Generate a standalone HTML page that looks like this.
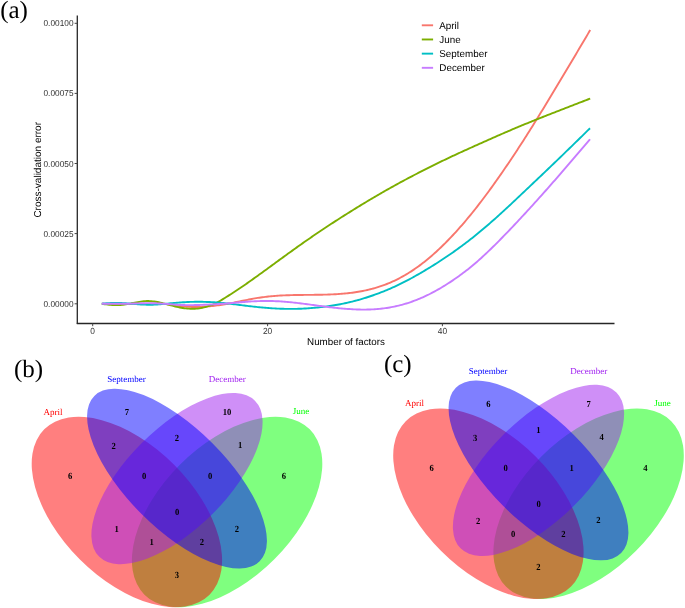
<!DOCTYPE html>
<html><head><meta charset="utf-8"><style>
html,body{margin:0;padding:0;background:#fff;}
body{width:685px;height:608px;overflow:hidden;}
svg{display:block;will-change:transform;text-rendering:geometricPrecision;}
.ax{stroke:#262626;stroke-width:1.3;}
.tk{stroke:#444;stroke-width:1;}
.yt{font-family:"Liberation Sans",sans-serif;font-size:8.3px;fill:#333;text-anchor:end;}
.xt{font-family:"Liberation Sans",sans-serif;font-size:8.4px;fill:#333;text-anchor:middle;}
.lg{font-family:"Liberation Sans",sans-serif;font-size:9.85px;fill:#000;}
.at{font-family:"Liberation Sans",sans-serif;font-size:9.8px;fill:#000;text-anchor:middle;}
.at2{font-family:"Liberation Sans",sans-serif;font-size:10px;fill:#000;text-anchor:middle;}
.pl{font-family:"Liberation Serif",serif;font-size:25px;fill:#000;}
.vl{font-family:"Liberation Serif",serif;font-size:9px;text-anchor:middle;}
.vn{font-family:"Liberation Serif",serif;font-size:8.6px;font-weight:bold;fill:#000;text-anchor:middle;}
</style></head><body>
<svg width="685" height="608" viewBox="0 0 685 608">
<text x="0.2" y="18.0" class="pl">(a)</text>
<line x1="77.3" y1="15.5" x2="77.3" y2="324.0" class="ax"/>
<line x1="76.8" y1="323.5" x2="614.5" y2="323.5" class="ax"/>
<line x1="74.6" y1="23.3" x2="77.3" y2="23.3" class="tk"/>
<text transform="translate(73.5 26.30) scale(1 1.050)" class="yt">0.00100</text>
<line x1="74.6" y1="93.4" x2="77.3" y2="93.4" class="tk"/>
<text transform="translate(73.5 96.40) scale(1 1.050)" class="yt">0.00075</text>
<line x1="74.6" y1="163.5" x2="77.3" y2="163.5" class="tk"/>
<text transform="translate(73.5 166.50) scale(1 1.050)" class="yt">0.00050</text>
<line x1="74.6" y1="233.6" x2="77.3" y2="233.6" class="tk"/>
<text transform="translate(73.5 236.60) scale(1 1.050)" class="yt">0.00025</text>
<line x1="74.6" y1="303.8" x2="77.3" y2="303.8" class="tk"/>
<text transform="translate(73.5 306.80) scale(1 1.050)" class="yt">0.00000</text>
<line x1="92.7" y1="323.5" x2="92.7" y2="326.2" class="tk"/>
<text transform="translate(92.7 333.70) scale(1 1.050)" class="xt">0</text>
<line x1="267.6" y1="323.5" x2="267.6" y2="326.2" class="tk"/>
<text transform="translate(267.6 333.70) scale(1 1.050)" class="xt">20</text>
<line x1="442.4" y1="323.5" x2="442.4" y2="326.2" class="tk"/>
<text transform="translate(442.4 333.70) scale(1 1.050)" class="xt">40</text>
<path d="M101.80,303.74 L103.30,303.79 L104.80,303.85 L106.30,303.90 L107.80,303.95 L109.30,303.99 L110.80,304.03 L112.30,304.06 L113.80,304.08 L115.30,304.09 L116.80,304.09 L118.30,304.07 L119.80,304.05 L121.30,304.02 L122.80,303.99 L124.30,303.95 L125.80,303.91 L127.30,303.88 L128.80,303.85 L130.30,303.83 L131.80,303.82 L133.30,303.81 L134.80,303.82 L136.30,303.82 L137.80,303.83 L139.30,303.84 L140.80,303.85 L142.30,303.86 L143.80,303.86 L145.30,303.86 L146.80,303.85 L148.30,303.83 L149.80,303.80 L151.30,303.78 L152.80,303.75 L154.30,303.74 L155.80,303.72 L157.30,303.72 L158.80,303.74 L160.30,303.77 L161.80,303.82 L163.30,303.90 L164.80,304.00 L166.30,304.13 L167.80,304.29 L169.30,304.47 L170.80,304.67 L172.30,304.88 L173.80,305.09 L175.30,305.32 L176.80,305.53 L178.30,305.75 L179.80,305.95 L181.30,306.14 L182.80,306.31 L184.30,306.46 L185.80,306.60 L187.30,306.71 L188.80,306.81 L190.30,306.89 L191.80,306.94 L193.30,306.98 L194.80,306.99 L196.30,306.99 L197.80,306.96 L199.30,306.92 L200.80,306.86 L202.30,306.79 L203.80,306.71 L205.30,306.62 L206.80,306.51 L208.30,306.39 L209.80,306.26 L211.30,306.12 L212.80,305.97 L214.30,305.80 L215.80,305.62 L217.30,305.43 L218.80,305.23 L220.30,305.01 L221.80,304.79 L223.30,304.55 L224.80,304.30 L226.30,304.03 L227.80,303.76 L229.30,303.48 L230.80,303.19 L232.30,302.89 L233.80,302.58 L235.30,302.28 L236.80,301.97 L238.30,301.65 L239.80,301.34 L241.30,301.03 L242.80,300.72 L244.30,300.41 L245.80,300.11 L247.30,299.81 L248.80,299.52 L250.30,299.23 L251.80,298.95 L253.30,298.68 L254.80,298.42 L256.30,298.17 L257.80,297.93 L259.30,297.70 L260.80,297.48 L262.30,297.27 L263.80,297.07 L265.30,296.88 L266.80,296.70 L268.30,296.54 L269.80,296.38 L271.30,296.23 L272.80,296.10 L274.30,295.97 L275.80,295.86 L277.30,295.75 L278.80,295.65 L280.30,295.56 L281.80,295.48 L283.30,295.41 L284.80,295.34 L286.30,295.28 L287.80,295.23 L289.30,295.18 L290.80,295.14 L292.30,295.10 L293.80,295.06 L295.30,295.03 L296.80,295.01 L298.30,294.99 L299.80,294.97 L301.30,294.95 L302.80,294.93 L304.30,294.92 L305.80,294.90 L307.30,294.89 L308.80,294.87 L310.30,294.86 L311.80,294.85 L313.30,294.83 L314.80,294.81 L316.30,294.80 L317.80,294.77 L319.30,294.75 L320.80,294.72 L322.30,294.69 L323.80,294.66 L325.30,294.62 L326.80,294.58 L328.30,294.53 L329.80,294.47 L331.30,294.41 L332.80,294.35 L334.30,294.27 L335.80,294.19 L337.30,294.10 L338.80,294.00 L340.30,293.90 L341.80,293.78 L343.30,293.66 L344.80,293.52 L346.30,293.38 L347.80,293.22 L349.30,293.06 L350.80,292.88 L352.30,292.69 L353.80,292.48 L355.30,292.27 L356.80,292.04 L358.30,291.79 L359.80,291.53 L361.30,291.26 L362.80,290.97 L364.30,290.67 L365.80,290.35 L367.30,290.02 L368.80,289.66 L370.30,289.29 L371.80,288.91 L373.30,288.50 L374.80,288.08 L376.30,287.64 L377.80,287.18 L379.30,286.70 L380.80,286.20 L382.30,285.68 L383.80,285.14 L385.30,284.58 L386.80,284.00 L388.30,283.40 L389.80,282.77 L391.30,282.13 L392.80,281.46 L394.30,280.77 L395.80,280.05 L397.30,279.31 L398.80,278.55 L400.30,277.77 L401.80,276.96 L403.30,276.13 L404.80,275.27 L406.30,274.39 L407.80,273.48 L409.30,272.55 L410.80,271.60 L412.30,270.62 L413.80,269.62 L415.30,268.59 L416.80,267.54 L418.30,266.47 L419.80,265.37 L421.30,264.24 L422.80,263.09 L424.30,261.92 L425.80,260.72 L427.30,259.50 L428.80,258.26 L430.30,256.99 L431.80,255.70 L433.30,254.38 L434.80,253.04 L436.30,251.68 L437.80,250.30 L439.30,248.89 L440.80,247.46 L442.30,246.01 L443.80,244.54 L445.30,243.05 L446.80,241.53 L448.30,240.00 L449.80,238.44 L451.30,236.86 L452.80,235.27 L454.30,233.65 L455.80,232.02 L457.30,230.36 L458.80,228.68 L460.30,226.99 L461.80,225.27 L463.30,223.54 L464.80,221.78 L466.30,220.01 L467.80,218.22 L469.30,216.41 L470.80,214.58 L472.30,212.73 L473.80,210.86 L475.30,208.97 L476.80,207.06 L478.30,205.14 L479.80,203.20 L481.30,201.24 L482.80,199.26 L484.30,197.27 L485.80,195.26 L487.30,193.24 L488.80,191.20 L490.30,189.14 L491.80,187.07 L493.30,184.99 L494.80,182.89 L496.30,180.77 L497.80,178.65 L499.30,176.51 L500.80,174.36 L502.30,172.20 L503.80,170.02 L505.30,167.83 L506.80,165.63 L508.30,163.42 L509.80,161.20 L511.30,158.96 L512.80,156.71 L514.30,154.45 L515.80,152.18 L517.30,149.90 L518.80,147.60 L520.30,145.29 L521.80,142.97 L523.30,140.64 L524.80,138.30 L526.30,135.94 L527.80,133.58 L529.30,131.20 L530.80,128.81 L532.30,126.41 L533.80,124.01 L535.30,121.59 L536.80,119.17 L538.30,116.74 L539.80,114.30 L541.30,111.85 L542.80,109.40 L544.30,106.94 L545.80,104.48 L547.30,102.01 L548.80,99.54 L550.30,97.06 L551.80,94.58 L553.30,92.10 L554.80,89.60 L556.30,87.11 L557.80,84.61 L559.30,82.11 L560.80,79.61 L562.30,77.10 L563.80,74.59 L565.30,72.07 L566.80,69.55 L568.30,67.03 L569.80,64.51 L571.30,61.99 L572.80,59.46 L574.30,56.93 L575.80,54.40 L577.30,51.87 L578.80,49.33 L580.30,46.80 L581.80,44.26 L583.30,41.73 L584.80,39.19 L586.30,36.65 L587.80,34.11 L589.30,31.57 L590.20,30.05" fill="none" stroke="#F8766D" stroke-width="1.90" stroke-linecap="butt" stroke-linejoin="round"/>
<path d="M101.80,303.83 L103.30,304.04 L104.80,304.24 L106.30,304.43 L107.80,304.61 L109.30,304.77 L110.80,304.91 L112.30,305.03 L113.80,305.11 L115.30,305.16 L116.80,305.17 L118.30,305.13 L119.80,305.05 L121.30,304.93 L122.80,304.77 L124.30,304.58 L125.80,304.36 L127.30,304.12 L128.80,303.85 L130.30,303.57 L131.80,303.28 L133.30,302.98 L134.80,302.68 L136.30,302.39 L137.80,302.11 L139.30,301.85 L140.80,301.61 L142.30,301.41 L143.80,301.25 L145.30,301.14 L146.80,301.07 L148.30,301.06 L149.80,301.11 L151.30,301.20 L152.80,301.34 L154.30,301.53 L155.80,301.75 L157.30,302.01 L158.80,302.30 L160.30,302.62 L161.80,302.96 L163.30,303.32 L164.80,303.70 L166.30,304.09 L167.80,304.49 L169.30,304.90 L170.80,305.30 L172.30,305.70 L173.80,306.09 L175.30,306.46 L176.80,306.82 L178.30,307.16 L179.80,307.47 L181.30,307.75 L182.80,308.00 L184.30,308.22 L185.80,308.40 L187.30,308.55 L188.80,308.66 L190.30,308.73 L191.80,308.77 L193.30,308.76 L194.80,308.71 L196.30,308.62 L197.80,308.48 L199.30,308.29 L200.80,308.05 L202.30,307.76 L203.80,307.43 L205.30,307.06 L206.80,306.66 L208.30,306.21 L209.80,305.72 L211.30,305.18 L212.80,304.58 L214.30,303.92 L215.80,303.20 L217.30,302.43 L218.80,301.61 L220.30,300.75 L221.80,299.85 L223.30,298.93 L224.80,297.99 L226.30,297.05 L227.80,296.10 L229.30,295.14 L230.80,294.18 L232.30,293.21 L233.80,292.23 L235.30,291.24 L236.80,290.25 L238.30,289.25 L239.80,288.25 L241.30,287.24 L242.80,286.22 L244.30,285.19 L245.80,284.16 L247.30,283.12 L248.80,282.07 L250.30,281.02 L251.80,279.96 L253.30,278.90 L254.80,277.83 L256.30,276.76 L257.80,275.68 L259.30,274.60 L260.80,273.52 L262.30,272.43 L263.80,271.34 L265.30,270.25 L266.80,269.16 L268.30,268.06 L269.80,266.97 L271.30,265.87 L272.80,264.77 L274.30,263.68 L275.80,262.58 L277.30,261.49 L278.80,260.39 L280.30,259.30 L281.80,258.21 L283.30,257.11 L284.80,256.02 L286.30,254.94 L287.80,253.85 L289.30,252.77 L290.80,251.69 L292.30,250.61 L293.80,249.53 L295.30,248.46 L296.80,247.39 L298.30,246.32 L299.80,245.25 L301.30,244.19 L302.80,243.14 L304.30,242.08 L305.80,241.03 L307.30,239.99 L308.80,238.95 L310.30,237.91 L311.80,236.87 L313.30,235.84 L314.80,234.82 L316.30,233.80 L317.80,232.78 L319.30,231.76 L320.80,230.76 L322.30,229.75 L323.80,228.75 L325.30,227.75 L326.80,226.76 L328.30,225.77 L329.80,224.79 L331.30,223.81 L332.80,222.84 L334.30,221.87 L335.80,220.90 L337.30,219.93 L338.80,218.97 L340.30,218.02 L341.80,217.06 L343.30,216.11 L344.80,215.17 L346.30,214.22 L347.80,213.28 L349.30,212.34 L350.80,211.40 L352.30,210.47 L353.80,209.54 L355.30,208.61 L356.80,207.68 L358.30,206.76 L359.80,205.84 L361.30,204.93 L362.80,204.01 L364.30,203.10 L365.80,202.20 L367.30,201.29 L368.80,200.40 L370.30,199.50 L371.80,198.61 L373.30,197.72 L374.80,196.84 L376.30,195.96 L377.80,195.09 L379.30,194.22 L380.80,193.35 L382.30,192.49 L383.80,191.63 L385.30,190.78 L386.80,189.93 L388.30,189.08 L389.80,188.24 L391.30,187.40 L392.80,186.57 L394.30,185.74 L395.80,184.91 L397.30,184.09 L398.80,183.27 L400.30,182.45 L401.80,181.64 L403.30,180.83 L404.80,180.03 L406.30,179.23 L407.80,178.43 L409.30,177.64 L410.80,176.85 L412.30,176.06 L413.80,175.28 L415.30,174.50 L416.80,173.72 L418.30,172.94 L419.80,172.17 L421.30,171.41 L422.80,170.64 L424.30,169.88 L425.80,169.12 L427.30,168.36 L428.80,167.61 L430.30,166.86 L431.80,166.11 L433.30,165.37 L434.80,164.63 L436.30,163.89 L437.80,163.15 L439.30,162.42 L440.80,161.69 L442.30,160.97 L443.80,160.24 L445.30,159.52 L446.80,158.81 L448.30,158.10 L449.80,157.39 L451.30,156.68 L452.80,155.98 L454.30,155.28 L455.80,154.58 L457.30,153.89 L458.80,153.20 L460.30,152.51 L461.80,151.83 L463.30,151.14 L464.80,150.46 L466.30,149.78 L467.80,149.10 L469.30,148.42 L470.80,147.75 L472.30,147.07 L473.80,146.39 L475.30,145.72 L476.80,145.05 L478.30,144.37 L479.80,143.70 L481.30,143.03 L482.80,142.36 L484.30,141.69 L485.80,141.02 L487.30,140.35 L488.80,139.68 L490.30,139.02 L491.80,138.35 L493.30,137.69 L494.80,137.03 L496.30,136.37 L497.80,135.71 L499.30,135.05 L500.80,134.40 L502.30,133.75 L503.80,133.10 L505.30,132.45 L506.80,131.80 L508.30,131.16 L509.80,130.52 L511.30,129.88 L512.80,129.24 L514.30,128.61 L515.80,127.98 L517.30,127.35 L518.80,126.72 L520.30,126.09 L521.80,125.47 L523.30,124.85 L524.80,124.24 L526.30,123.62 L527.80,123.01 L529.30,122.40 L530.80,121.79 L532.30,121.19 L533.80,120.59 L535.30,119.98 L536.80,119.39 L538.30,118.79 L539.80,118.19 L541.30,117.60 L542.80,117.00 L544.30,116.41 L545.80,115.82 L547.30,115.23 L548.80,114.64 L550.30,114.05 L551.80,113.47 L553.30,112.88 L554.80,112.29 L556.30,111.71 L557.80,111.12 L559.30,110.54 L560.80,109.95 L562.30,109.37 L563.80,108.78 L565.30,108.20 L566.80,107.62 L568.30,107.04 L569.80,106.46 L571.30,105.88 L572.80,105.30 L574.30,104.71 L575.80,104.13 L577.30,103.56 L578.80,102.98 L580.30,102.40 L581.80,101.82 L583.30,101.24 L584.80,100.66 L586.30,100.08 L587.80,99.50 L589.30,98.92 L590.20,98.58" fill="none" stroke="#7CAE00" stroke-width="1.90" stroke-linecap="butt" stroke-linejoin="round"/>
<path d="M101.80,303.63 L103.30,303.51 L104.80,303.40 L106.30,303.29 L107.80,303.18 L109.30,303.09 L110.80,303.01 L112.30,302.95 L113.80,302.90 L115.30,302.87 L116.80,302.86 L118.30,302.88 L119.80,302.92 L121.30,302.99 L122.80,303.08 L124.30,303.18 L125.80,303.29 L127.30,303.41 L128.80,303.54 L130.30,303.67 L131.80,303.79 L133.30,303.92 L134.80,304.04 L136.30,304.15 L137.80,304.26 L139.30,304.36 L140.80,304.45 L142.30,304.53 L143.80,304.60 L145.30,304.66 L146.80,304.70 L148.30,304.72 L149.80,304.72 L151.30,304.71 L152.80,304.68 L154.30,304.64 L155.80,304.57 L157.30,304.49 L158.80,304.39 L160.30,304.27 L161.80,304.15 L163.30,304.02 L164.80,303.88 L166.30,303.74 L167.80,303.60 L169.30,303.46 L170.80,303.32 L172.30,303.18 L173.80,303.04 L175.30,302.90 L176.80,302.77 L178.30,302.65 L179.80,302.53 L181.30,302.41 L182.80,302.31 L184.30,302.21 L185.80,302.12 L187.30,302.04 L188.80,301.97 L190.30,301.92 L191.80,301.87 L193.30,301.83 L194.80,301.81 L196.30,301.79 L197.80,301.78 L199.30,301.79 L200.80,301.80 L202.30,301.82 L203.80,301.85 L205.30,301.89 L206.80,301.94 L208.30,302.00 L209.80,302.06 L211.30,302.14 L212.80,302.22 L214.30,302.32 L215.80,302.42 L217.30,302.53 L218.80,302.64 L220.30,302.77 L221.80,302.90 L223.30,303.05 L224.80,303.19 L226.30,303.35 L227.80,303.51 L229.30,303.68 L230.80,303.85 L232.30,304.03 L233.80,304.21 L235.30,304.39 L236.80,304.58 L238.30,304.76 L239.80,304.95 L241.30,305.14 L242.80,305.33 L244.30,305.52 L245.80,305.70 L247.30,305.89 L248.80,306.07 L250.30,306.25 L251.80,306.42 L253.30,306.59 L254.80,306.76 L256.30,306.92 L257.80,307.08 L259.30,307.23 L260.80,307.37 L262.30,307.51 L263.80,307.65 L265.30,307.78 L266.80,307.90 L268.30,308.02 L269.80,308.13 L271.30,308.24 L272.80,308.33 L274.30,308.42 L275.80,308.51 L277.30,308.58 L278.80,308.65 L280.30,308.71 L281.80,308.77 L283.30,308.81 L284.80,308.85 L286.30,308.88 L287.80,308.90 L289.30,308.91 L290.80,308.91 L292.30,308.91 L293.80,308.89 L295.30,308.87 L296.80,308.84 L298.30,308.80 L299.80,308.75 L301.30,308.69 L302.80,308.62 L304.30,308.55 L305.80,308.47 L307.30,308.37 L308.80,308.27 L310.30,308.17 L311.80,308.05 L313.30,307.92 L314.80,307.79 L316.30,307.65 L317.80,307.50 L319.30,307.34 L320.80,307.17 L322.30,306.99 L323.80,306.81 L325.30,306.62 L326.80,306.42 L328.30,306.21 L329.80,305.99 L331.30,305.76 L332.80,305.53 L334.30,305.28 L335.80,305.03 L337.30,304.76 L338.80,304.49 L340.30,304.21 L341.80,303.91 L343.30,303.61 L344.80,303.29 L346.30,302.97 L347.80,302.63 L349.30,302.28 L350.80,301.93 L352.30,301.56 L353.80,301.18 L355.30,300.79 L356.80,300.38 L358.30,299.97 L359.80,299.55 L361.30,299.11 L362.80,298.67 L364.30,298.21 L365.80,297.74 L367.30,297.26 L368.80,296.77 L370.30,296.27 L371.80,295.76 L373.30,295.24 L374.80,294.71 L376.30,294.17 L377.80,293.62 L379.30,293.05 L380.80,292.48 L382.30,291.89 L383.80,291.29 L385.30,290.69 L386.80,290.07 L388.30,289.44 L389.80,288.79 L391.30,288.14 L392.80,287.47 L394.30,286.79 L395.80,286.10 L397.30,285.40 L398.80,284.68 L400.30,283.96 L401.80,283.22 L403.30,282.46 L404.80,281.70 L406.30,280.92 L407.80,280.14 L409.30,279.34 L410.80,278.53 L412.30,277.71 L413.80,276.88 L415.30,276.04 L416.80,275.19 L418.30,274.34 L419.80,273.47 L421.30,272.60 L422.80,271.72 L424.30,270.83 L425.80,269.93 L427.30,269.03 L428.80,268.12 L430.30,267.20 L431.80,266.27 L433.30,265.34 L434.80,264.39 L436.30,263.44 L437.80,262.48 L439.30,261.52 L440.80,260.54 L442.30,259.56 L443.80,258.56 L445.30,257.56 L446.80,256.55 L448.30,255.53 L449.80,254.50 L451.30,253.46 L452.80,252.42 L454.30,251.36 L455.80,250.29 L457.30,249.21 L458.80,248.13 L460.30,247.03 L461.80,245.92 L463.30,244.81 L464.80,243.68 L466.30,242.54 L467.80,241.39 L469.30,240.23 L470.80,239.06 L472.30,237.88 L473.80,236.69 L475.30,235.49 L476.80,234.27 L478.30,233.05 L479.80,231.81 L481.30,230.57 L482.80,229.31 L484.30,228.05 L485.80,226.77 L487.30,225.49 L488.80,224.19 L490.30,222.89 L491.80,221.58 L493.30,220.26 L494.80,218.93 L496.30,217.59 L497.80,216.24 L499.30,214.89 L500.80,213.53 L502.30,212.16 L503.80,210.78 L505.30,209.40 L506.80,208.01 L508.30,206.62 L509.80,205.22 L511.30,203.82 L512.80,202.41 L514.30,201.00 L515.80,199.59 L517.30,198.18 L518.80,196.76 L520.30,195.34 L521.80,193.92 L523.30,192.50 L524.80,191.08 L526.30,189.66 L527.80,188.24 L529.30,186.82 L530.80,185.40 L532.30,183.98 L533.80,182.56 L535.30,181.14 L536.80,179.72 L538.30,178.30 L539.80,176.88 L541.30,175.45 L542.80,174.03 L544.30,172.60 L545.80,171.17 L547.30,169.74 L548.80,168.31 L550.30,166.87 L551.80,165.43 L553.30,163.99 L554.80,162.55 L556.30,161.11 L557.80,159.66 L559.30,158.21 L560.80,156.76 L562.30,155.31 L563.80,153.86 L565.30,152.40 L566.80,150.94 L568.30,149.48 L569.80,148.02 L571.30,146.56 L572.80,145.10 L574.30,143.64 L575.80,142.17 L577.30,140.71 L578.80,139.24 L580.30,137.78 L581.80,136.31 L583.30,134.84 L584.80,133.37 L586.30,131.90 L587.80,130.44 L589.30,128.97 L590.00,128.28" fill="none" stroke="#00BFC4" stroke-width="1.90" stroke-linecap="butt" stroke-linejoin="round"/>
<path d="M101.80,303.71 L103.30,303.72 L104.80,303.74 L106.30,303.75 L107.80,303.77 L109.30,303.78 L110.80,303.79 L112.30,303.80 L113.80,303.80 L115.30,303.81 L116.80,303.81 L118.30,303.81 L119.80,303.80 L121.30,303.79 L122.80,303.78 L124.30,303.76 L125.80,303.74 L127.30,303.71 L128.80,303.68 L130.30,303.64 L131.80,303.60 L133.30,303.55 L134.80,303.50 L136.30,303.45 L137.80,303.39 L139.30,303.34 L140.80,303.30 L142.30,303.25 L143.80,303.22 L145.30,303.19 L146.80,303.17 L148.30,303.16 L149.80,303.16 L151.30,303.18 L152.80,303.21 L154.30,303.25 L155.80,303.30 L157.30,303.36 L158.80,303.43 L160.30,303.52 L161.80,303.61 L163.30,303.71 L164.80,303.81 L166.30,303.92 L167.80,304.04 L169.30,304.16 L170.80,304.28 L172.30,304.40 L173.80,304.52 L175.30,304.63 L176.80,304.73 L178.30,304.83 L179.80,304.91 L181.30,304.98 L182.80,305.03 L184.30,305.07 L185.80,305.10 L187.30,305.12 L188.80,305.13 L190.30,305.13 L191.80,305.12 L193.30,305.10 L194.80,305.07 L196.30,305.04 L197.80,304.99 L199.30,304.95 L200.80,304.89 L202.30,304.84 L203.80,304.78 L205.30,304.71 L206.80,304.65 L208.30,304.58 L209.80,304.51 L211.30,304.43 L212.80,304.35 L214.30,304.27 L215.80,304.19 L217.30,304.10 L218.80,304.01 L220.30,303.91 L221.80,303.81 L223.30,303.70 L224.80,303.59 L226.30,303.47 L227.80,303.35 L229.30,303.22 L230.80,303.10 L232.30,302.96 L233.80,302.83 L235.30,302.70 L236.80,302.57 L238.30,302.44 L239.80,302.31 L241.30,302.18 L242.80,302.06 L244.30,301.94 L245.80,301.82 L247.30,301.71 L248.80,301.61 L250.30,301.51 L251.80,301.42 L253.30,301.34 L254.80,301.27 L256.30,301.20 L257.80,301.14 L259.30,301.10 L260.80,301.06 L262.30,301.03 L263.80,301.00 L265.30,300.99 L266.80,300.99 L268.30,301.00 L269.80,301.01 L271.30,301.04 L272.80,301.07 L274.30,301.12 L275.80,301.18 L277.30,301.24 L278.80,301.32 L280.30,301.41 L281.80,301.51 L283.30,301.61 L284.80,301.72 L286.30,301.85 L287.80,301.98 L289.30,302.11 L290.80,302.26 L292.30,302.41 L293.80,302.57 L295.30,302.74 L296.80,302.91 L298.30,303.08 L299.80,303.26 L301.30,303.45 L302.80,303.64 L304.30,303.83 L305.80,304.03 L307.30,304.23 L308.80,304.43 L310.30,304.63 L311.80,304.83 L313.30,305.04 L314.80,305.24 L316.30,305.45 L317.80,305.65 L319.30,305.86 L320.80,306.06 L322.30,306.26 L323.80,306.45 L325.30,306.65 L326.80,306.84 L328.30,307.02 L329.80,307.20 L331.30,307.38 L332.80,307.55 L334.30,307.72 L335.80,307.88 L337.30,308.04 L338.80,308.19 L340.30,308.34 L341.80,308.48 L343.30,308.61 L344.80,308.74 L346.30,308.86 L347.80,308.97 L349.30,309.07 L350.80,309.17 L352.30,309.26 L353.80,309.33 L355.30,309.40 L356.80,309.46 L358.30,309.51 L359.80,309.55 L361.30,309.58 L362.80,309.60 L364.30,309.60 L365.80,309.59 L367.30,309.57 L368.80,309.53 L370.30,309.48 L371.80,309.42 L373.30,309.34 L374.80,309.24 L376.30,309.13 L377.80,309.01 L379.30,308.87 L380.80,308.72 L382.30,308.55 L383.80,308.36 L385.30,308.16 L386.80,307.94 L388.30,307.70 L389.80,307.45 L391.30,307.18 L392.80,306.89 L394.30,306.59 L395.80,306.27 L397.30,305.93 L398.80,305.57 L400.30,305.20 L401.80,304.80 L403.30,304.39 L404.80,303.96 L406.30,303.51 L407.80,303.04 L409.30,302.55 L410.80,302.05 L412.30,301.52 L413.80,300.98 L415.30,300.42 L416.80,299.84 L418.30,299.23 L419.80,298.61 L421.30,297.98 L422.80,297.32 L424.30,296.64 L425.80,295.94 L427.30,295.23 L428.80,294.49 L430.30,293.74 L431.80,292.97 L433.30,292.17 L434.80,291.37 L436.30,290.54 L437.80,289.70 L439.30,288.83 L440.80,287.96 L442.30,287.06 L443.80,286.15 L445.30,285.22 L446.80,284.28 L448.30,283.32 L449.80,282.35 L451.30,281.36 L452.80,280.35 L454.30,279.33 L455.80,278.29 L457.30,277.24 L458.80,276.17 L460.30,275.08 L461.80,273.98 L463.30,272.86 L464.80,271.72 L466.30,270.56 L467.80,269.38 L469.30,268.19 L470.80,266.97 L472.30,265.74 L473.80,264.49 L475.30,263.21 L476.80,261.92 L478.30,260.60 L479.80,259.27 L481.30,257.92 L482.80,256.55 L484.30,255.16 L485.80,253.76 L487.30,252.34 L488.80,250.91 L490.30,249.47 L491.80,248.01 L493.30,246.54 L494.80,245.06 L496.30,243.56 L497.80,242.06 L499.30,240.55 L500.80,239.03 L502.30,237.50 L503.80,235.96 L505.30,234.42 L506.80,232.86 L508.30,231.30 L509.80,229.74 L511.30,228.16 L512.80,226.58 L514.30,224.99 L515.80,223.40 L517.30,221.80 L518.80,220.20 L520.30,218.59 L521.80,216.97 L523.30,215.35 L524.80,213.73 L526.30,212.10 L527.80,210.46 L529.30,208.82 L530.80,207.18 L532.30,205.53 L533.80,203.88 L535.30,202.22 L536.80,200.56 L538.30,198.90 L539.80,197.22 L541.30,195.55 L542.80,193.87 L544.30,192.19 L545.80,190.50 L547.30,188.81 L548.80,187.11 L550.30,185.41 L551.80,183.70 L553.30,181.99 L554.80,180.27 L556.30,178.56 L557.80,176.83 L559.30,175.11 L560.80,173.38 L562.30,171.64 L563.80,169.91 L565.30,168.17 L566.80,166.43 L568.30,164.68 L569.80,162.93 L571.30,161.18 L572.80,159.43 L574.30,157.68 L575.80,155.92 L577.30,154.17 L578.80,152.41 L580.30,150.65 L581.80,148.89 L583.30,147.13 L584.80,145.36 L586.30,143.60 L587.80,141.84 L589.30,140.07 L590.00,139.25" fill="none" stroke="#C77CFF" stroke-width="1.90" stroke-linecap="butt" stroke-linejoin="round"/>
<line x1="421.8" y1="25.30" x2="433.1" y2="25.30" stroke="#F8766D" stroke-width="1.90"/>
<text x="439.3" y="28.70" class="lg">April</text>
<line x1="421.8" y1="39.47" x2="433.1" y2="39.47" stroke="#7CAE00" stroke-width="1.90"/>
<text x="439.3" y="42.87" class="lg">June</text>
<line x1="421.8" y1="53.64" x2="433.1" y2="53.64" stroke="#00BFC4" stroke-width="1.90"/>
<text x="439.3" y="57.04" class="lg">September</text>
<line x1="421.8" y1="67.81" x2="433.1" y2="67.81" stroke="#C77CFF" stroke-width="1.90"/>
<text x="439.3" y="71.21" class="lg">December</text>
<text x="346" y="344.9" class="at">Number of factors</text>
<text transform="translate(41.0 169.8) rotate(-90)" x="0" y="0" class="at2">Cross-validation error</text>
<text x="14.0" y="376.9" class="pl">(b)</text>
<ellipse cx="227.10" cy="512.00" rx="116.90" ry="66.80" transform="rotate(-45 227.10 512.00)" fill="#00FF00" fill-opacity="0.5"/>
<ellipse cx="126.90" cy="512.00" rx="116.90" ry="66.80" transform="rotate(45 126.90 512.00)" fill="#FF0000" fill-opacity="0.5"/>
<ellipse cx="177.00" cy="478.60" rx="110.22" ry="50.10" transform="rotate(-45 177.00 478.60)" fill="#A020F0" fill-opacity="0.5"/>
<ellipse cx="177.00" cy="478.60" rx="116.90" ry="50.10" transform="rotate(45 177.00 478.60)" fill="#0000FF" fill-opacity="0.5"/>
<text x="53.1" y="414.6" fill="#FF0000" class="vl">April</text>
<text x="126.6" y="382.0" fill="#0000FF" class="vl">September</text>
<text x="227.2" y="382.1" fill="#A020F0" class="vl">December</text>
<text x="300.9" y="414.4" fill="#00FF00" class="vl">June</text>
<text transform="translate(70.2 479.0) scale(1 1.080)" class="vn">6</text>
<text transform="translate(127.0 415.2) scale(1 1.080)" class="vn">7</text>
<text transform="translate(227.1 415.1) scale(1 1.080)" class="vn">10</text>
<text transform="translate(284.0 478.7) scale(1 1.080)" class="vn">6</text>
<text transform="translate(113.6 448.8) scale(1 1.080)" class="vn">2</text>
<text transform="translate(176.9 441.4) scale(1 1.080)" class="vn">2</text>
<text transform="translate(240.2 448.4) scale(1 1.080)" class="vn">1</text>
<text transform="translate(144.1 478.7) scale(1 1.080)" class="vn">0</text>
<text transform="translate(210.2 478.7) scale(1 1.080)" class="vn">0</text>
<text transform="translate(177.2 514.9) scale(1 1.080)" class="vn">0</text>
<text transform="translate(116.6 532.0) scale(1 1.080)" class="vn">1</text>
<text transform="translate(236.9 531.6) scale(1 1.080)" class="vn">2</text>
<text transform="translate(151.7 545.1) scale(1 1.080)" class="vn">1</text>
<text transform="translate(201.9 545.1) scale(1 1.080)" class="vn">2</text>
<text transform="translate(176.8 578.2) scale(1 1.080)" class="vn">3</text>
<text x="383.9" y="371.9" class="pl">(c)</text>
<ellipse cx="588.60" cy="503.80" rx="116.90" ry="66.80" transform="rotate(-45 588.60 503.80)" fill="#00FF00" fill-opacity="0.5"/>
<ellipse cx="488.40" cy="503.80" rx="116.90" ry="66.80" transform="rotate(45 488.40 503.80)" fill="#FF0000" fill-opacity="0.5"/>
<ellipse cx="538.50" cy="470.40" rx="110.22" ry="50.10" transform="rotate(-45 538.50 470.40)" fill="#A020F0" fill-opacity="0.5"/>
<ellipse cx="538.50" cy="470.40" rx="116.90" ry="50.10" transform="rotate(45 538.50 470.40)" fill="#0000FF" fill-opacity="0.5"/>
<text x="414.6" y="406.4" fill="#FF0000" class="vl">April</text>
<text x="488.1" y="373.8" fill="#0000FF" class="vl">September</text>
<text x="588.7" y="373.9" fill="#A020F0" class="vl">December</text>
<text x="662.4" y="406.2" fill="#00FF00" class="vl">June</text>
<text transform="translate(431.7 470.8) scale(1 1.080)" class="vn">6</text>
<text transform="translate(488.5 407.0) scale(1 1.080)" class="vn">6</text>
<text transform="translate(588.6 406.9) scale(1 1.080)" class="vn">7</text>
<text transform="translate(645.5 470.5) scale(1 1.080)" class="vn">4</text>
<text transform="translate(475.1 440.6) scale(1 1.080)" class="vn">3</text>
<text transform="translate(538.4 433.2) scale(1 1.080)" class="vn">1</text>
<text transform="translate(601.7 440.2) scale(1 1.080)" class="vn">4</text>
<text transform="translate(505.6 470.5) scale(1 1.080)" class="vn">0</text>
<text transform="translate(571.7 470.5) scale(1 1.080)" class="vn">1</text>
<text transform="translate(538.7 506.7) scale(1 1.080)" class="vn">0</text>
<text transform="translate(478.1 523.8) scale(1 1.080)" class="vn">2</text>
<text transform="translate(598.4 523.4) scale(1 1.080)" class="vn">2</text>
<text transform="translate(513.2 536.9) scale(1 1.080)" class="vn">0</text>
<text transform="translate(563.4 536.9) scale(1 1.080)" class="vn">2</text>
<text transform="translate(538.3 570.0) scale(1 1.080)" class="vn">2</text>
</svg>
</body></html>
